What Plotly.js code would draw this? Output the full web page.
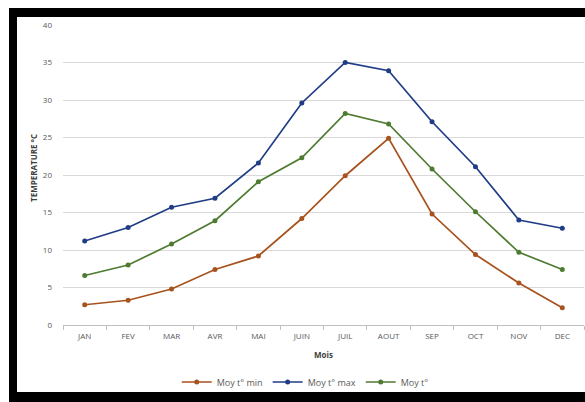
<!DOCTYPE html>
<html>
<head>
<meta charset="utf-8">
<script src="https://cdn.plot.ly/plotly-3.0.1.min.js"></script>
<style>
  html, body { margin: 0; padding: 0; background: #fff; }
  #chart { position: absolute; left: 0; top: 0; width: 585px; height: 402px; }
  .band { position: absolute; background: #000; pointer-events: none; z-index: 10; }
</style>
</head>
<body>
<div id="chart"></div>
<div class="band" style="left:9px;top:8px;width:576px;height:9px;"></div>
<div class="band" style="left:9px;top:8px;width:8px;height:394px;"></div>
<div class="band" style="left:9px;top:392px;width:576px;height:10px;"></div>
<script>
const months = ["JAN","FEV","MAR","AVR","MAI","JUIN","JUIL","AOUT","SEP","OCT","NOV","DEC"];
const tMin = [2.7, 3.3, 4.8, 7.4, 9.2, 14.2, 19.9, 24.9, 14.8, 9.4, 5.6, 2.3];
const tMax = [11.2, 13.0, 15.7, 16.9, 21.6, 29.6, 35.0, 33.9, 27.1, 21.1, 14.0, 12.9];
const tAvg = [6.6, 8.0, 10.8, 13.9, 19.1, 22.3, 28.2, 26.8, 20.8, 15.1, 9.7, 7.4];
const seriesNames = ["Moy t° min", "Moy t° max", "Moy t°"];
const yTicks = [0, 5, 10, 15, 20, 25, 30, 35, 40];

const colors = ["#A8521E", "#203C86", "#4E7B31"];
const data = [tMin, tMax, tAvg].map((vals, i) => ({
  type: "scatter",
  mode: "lines+markers",
  x: months,
  y: vals,
  name: seriesNames[i],
  line: { color: colors[i], width: 1.7 },
  marker: { color: colors[i], size: 5 }
}));

const layout = {
  width: 585, height: 402,
  margin: { l: 63, r: 1, t: 25, b: 77 },
  paper_bgcolor: "#fff", plot_bgcolor: "#fff",
  font: { family: "Open Sans, Liberation Sans, sans-serif", size: 8, color: "#595959" },
  showlegend: true,
  legend: {
    orientation: "h", x: 0.465, xanchor: "center", y: -0.19, yanchor: "middle",
    font: { size: 9, color: "#595959" }, itemwidth: 30, tracegroupgap: 0
  },
  xaxis: {
    type: "category", range: [-0.5, 11.5], autorange: false,
    tickmode: "array", tickvals: months, ticktext: months,
    showline: true, linecolor: "#BFBFBF", linewidth: 1,
    ticks: "outside", ticklen: 4, tickcolor: "#BFBFBF", tickson: "boundaries",
    showgrid: false, zeroline: false, ticklabelstandoff: 3,
    tickfont: { size: 8, color: "#595959" },
    title: { text: "<b>Mois</b>", font: { size: 8, color: "#404040" }, standoff: 12 }
  },
  yaxis: {
    range: [0, 40], autorange: false, tickmode: "array", tickvals: yTicks,
    showgrid: true, gridcolor: "#D9D9D9", gridwidth: 1,
    showline: false, zeroline: false, ticks: "",
    tickfont: { size: 8, color: "#595959" }, ticklabelstandoff: 10
  },
  annotations: [{
    text: "<b>TEMPERATURE °C</b>", textangle: -90, showarrow: false,
    xref: "paper", yref: "paper", x: -0.058, xanchor: "center",
    y: 0.523, yanchor: "middle",
    font: { size: 8, color: "#404040" }
  }]
};

Plotly.newPlot("chart", data, layout, { displayModeBar: false, staticPlot: true });
</script>
</body>
</html>
